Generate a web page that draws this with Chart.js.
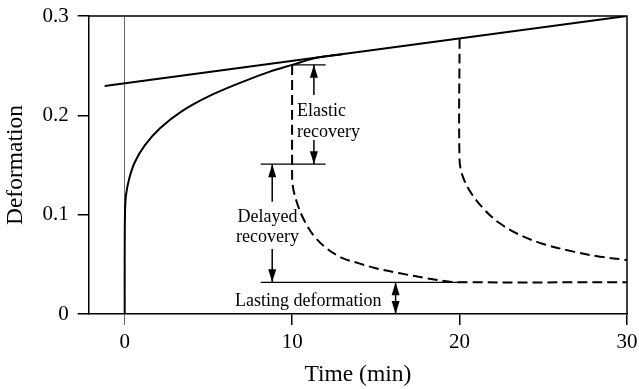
<!DOCTYPE html>
<html>
<head>
<meta charset="utf-8">
<script src="https://cdn.jsdelivr.net/npm/chart.js@4/dist/chart.umd.min.js"></script>
<style>
  html, body { margin: 0; padding: 0; background: #fff; }
  canvas { display: block; }
</style>
</head>
<body>
<canvas id="c" width="639" height="389"></canvas>
<script>
// Axis ticks
const timeTicks = [0, 10, 20, 30];
const timeLabels = ['0', '10', '20', '30'];
const deformTicks = [0, 0.1, 0.2, 0.3];
const deformLabels = ['0', '0.1', '0.2', '0.3'];

// Asymptote of the creep curve
const tangentT = [-1.2, 30];
const tangentD = [0.2296, 0.300];

// Creep under constant load (min, deformation)
const creepT = [0, 0, 0.02, 0.08, 0.28, 0.61, 1.21, 2.11, 3.4, 5.19, 7.08, 8.67, 10.0, 11.46, 13.0];
const creepD = [0, 0.06, 0.103, 0.12, 0.137, 0.153, 0.170, 0.187, 0.204, 0.2205, 0.234, 0.244, 0.2508, 0.2580, 0.2616];

// Recovery after unloading at 10 min
const rec10T = [10.0, 10.0, 10.03, 10.27, 10.66, 11.26, 12.06, 13.05, 14.0, 15.0, 16.44, 18.03, 19.42, 20.4, 30.0];
const rec10D = [0.2508, 0.150, 0.130, 0.113, 0.0964, 0.0796, 0.0661, 0.056, 0.051, 0.046, 0.041, 0.036, 0.0325, 0.0319, 0.0319];

// Recovery after unloading at 20 min
const rec20T = [20.0, 20.0, 20.2, 20.7, 21.5, 22.4, 23.6, 25.0, 26.8, 28.4, 30.0];
const rec20D = [0.2774, 0.155, 0.138, 0.1215, 0.1047, 0.0913, 0.0796, 0.0705, 0.0628, 0.0577, 0.0544];

// Guide lines [t start, t end, deformation]
const guideLines = [[10.03, 12.0, 0.2508], [8.12, 12.0, 0.1508], [8.12, 20.4, 0.0319]];
// Arrows [t, from, to, double-headed]
const arrowSpecs = [
  [11.3, 0.2205, 0.2508, false],
  [11.3, 0.1752, 0.1508, false],
  [8.81, 0.1131, 0.1508, false],
  [8.81, 0.0655, 0.0319, false],
  [16.18, 0.0319, 0, true]
];
// Notes: text lines, t, deformation of first baseline, alignment
const noteLines = [['Elastic', 'recovery'], ['Delayed', 'recovery'], ['Lasting deformation']];
const noteT = [10.29, 8.53, 10.96];
const noteD = [0.1994, 0.0930, 0.0081];
const noteAlign = ['left', 'center', 'center'];

const SERIF = "'Liberation Serif', 'Times New Roman', serif";
const pts = (xs, ys) => xs.map((x, i) => ({ x: x, y: ys[i] }));

// keep the plot area fixed: no extra room for overhanging tick labels
const noOverhang = s => { s.paddingTop = 0; s.paddingBottom = 0; s.paddingLeft = 0; s.paddingRight = 0; };

const frameAndNotes = {
  id: 'frameAndNotes',
  afterDatasetsDraw(chart) {
    const { ctx, chartArea: a, scales: { x, y } } = chart;
    ctx.save();
    // top and right edges of the frame
    ctx.strokeStyle = '#000';
    ctx.lineWidth = 1.5;
    ctx.beginPath();
    ctx.moveTo(a.left, a.top);
    ctx.lineTo(a.right, a.top);
    ctx.lineTo(a.right, a.bottom);
    ctx.stroke();

    // guide lines
    ctx.lineWidth = 1.3;
    guideLines.forEach(([t0, t1, d]) => {
      ctx.beginPath();
      ctx.moveTo(x.getPixelForValue(t0), y.getPixelForValue(d));
      ctx.lineTo(x.getPixelForValue(t1), y.getPixelForValue(d));
      ctx.stroke();
    });

    // arrows
    const head = (px, py, dir) => {
      const L = 13, w = 4;
      ctx.beginPath();
      ctx.moveTo(px, py);
      ctx.lineTo(px - w, py - dir * L);
      ctx.lineTo(px + w, py - dir * L);
      ctx.closePath();
      ctx.fill();
    };
    ctx.fillStyle = '#000';
    arrowSpecs.forEach(([t, d0, d1, both]) => {
      const px = x.getPixelForValue(t);
      const p0 = y.getPixelForValue(d0);
      const p1 = y.getPixelForValue(d1);
      const dir = p1 > p0 ? 1 : -1;
      ctx.lineWidth = 1.5;
      ctx.beginPath();
      ctx.moveTo(px, p0);
      ctx.lineTo(px, p1);
      ctx.stroke();
      head(px, p1, dir);
      if (both) head(px, p0, -dir);
    });

    // notes
    ctx.font = '18px ' + SERIF;
    ctx.textBaseline = 'alphabetic';
    noteLines.forEach((lines, i) => {
      ctx.textAlign = noteAlign[i];
      const px = x.getPixelForValue(noteT[i]);
      const py = y.getPixelForValue(noteD[i]);
      lines.forEach((s, j) => ctx.fillText(s, px, py + j * 20.6));
    });
    ctx.restore();
  }
};

new Chart(document.getElementById('c'), {
  type: 'line',
  data: {
    datasets: [
      { data: pts(tangentT, tangentD), borderColor: '#000', borderWidth: 2, tension: 0 },
      { data: pts(creepT, creepD), borderColor: '#000', borderWidth: 2, tension: 0.35 },
      { data: pts(rec10T, rec10D), borderColor: '#000', borderWidth: 2, borderDash: [10, 5], tension: 0.35 },
      { data: pts(rec20T, rec20D), borderColor: '#000', borderWidth: 2, borderDash: [10, 5], tension: 0.35 }
    ]
  },
  options: {
    responsive: false,
    animation: false,
    devicePixelRatio: 1,
    layout: { padding: { left: 0, right: 12, top: 16, bottom: 0 } },
    elements: { point: { radius: 0, hoverRadius: 0 } },
    plugins: { legend: { display: false }, tooltip: { enabled: false } },
    scales: {
      x: {
        type: 'linear',
        min: -2.15,
        max: 30,
        afterBuildTicks: s => { s.ticks = timeTicks.map(v => ({ value: v })); },
        afterFit: s => { s.height = 75; noOverhang(s); },
        border: { display: true, color: '#000', width: 1.5 },
        grid: {
          drawOnChartArea: true,
          color: c => (c.tick && c.tick.value === 0) ? '#666' : 'rgba(0,0,0,0)',
          lineWidth: c => (c.tick && c.tick.value === 0) ? 1 : 1.5,
          tickColor: c => (c.tick && c.tick.value === 0) ? '#666' : '#000',
          tickLength: 11
        },
        ticks: {
          color: '#000',
          padding: 5,
          maxRotation: 0,
          font: { family: SERIF, size: 21 },
          callback: (v, i) => timeLabels[i]
        },
        title: {
          display: true,
          text: 'Time (min)',
          color: '#000',
          font: { family: SERIF, size: 23.5 },
          padding: { top: 0, bottom: 0 }
        }
      },
      y: {
        type: 'linear',
        min: 0,
        max: 0.3,
        afterBuildTicks: s => { s.ticks = deformTicks.map(v => ({ value: v })); },
        afterFit: s => { s.width = 88.7; noOverhang(s); },
        border: { display: true, color: '#000', width: 1.5 },
        grid: {
          drawOnChartArea: false,
          tickColor: '#000',
          lineWidth: 1.5,
          tickLength: 11
        },
        ticks: {
          color: '#000',
          padding: 9,
          font: { family: SERIF, size: 21 },
          callback: (v, i) => deformLabels[i]
        },
        title: {
          display: true,
          text: 'Deformation',
          color: '#000',
          font: { family: SERIF, size: 23.5 },
          padding: { top: 2, bottom: 0 }
        }
      }
    }
  },
  plugins: [frameAndNotes]
});
</script>
</body>
</html>
